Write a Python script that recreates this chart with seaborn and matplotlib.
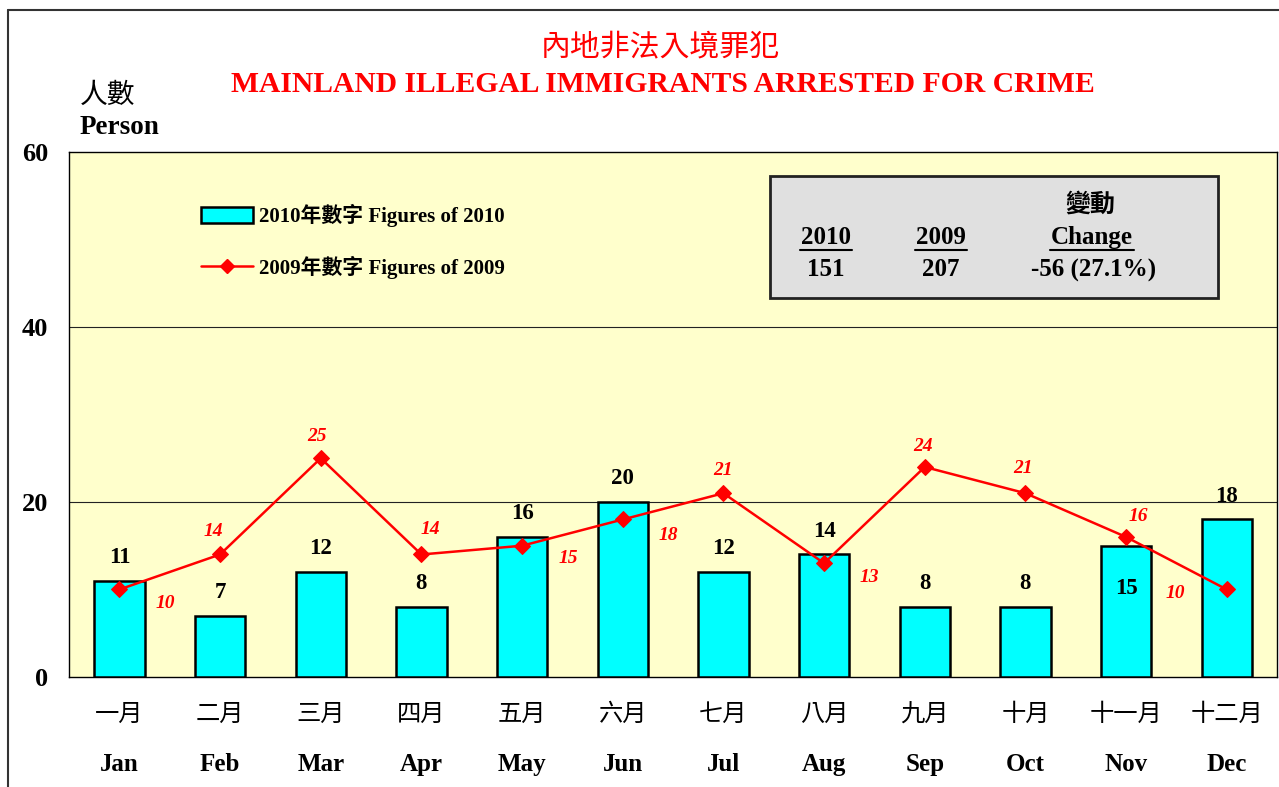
import numpy as np
import pandas as pd
import matplotlib.pyplot as plt
import seaborn as sns
from matplotlib.lines import Line2D
from matplotlib.patches import Patch, Rectangle
from matplotlib import transforms

months_zh = ["一月", "二月", "三月", "四月", "五月", "六月",
             "七月", "八月", "九月", "十月", "十一月", "十二月"]
months_en = ["Jan", "Feb", "Mar", "Apr", "May", "Jun",
             "Jul", "Aug", "Sep", "Oct", "Nov", "Dec"]
figures_2010 = [11, 7, 12, 8, 16, 20, 12, 14, 8, 8, 15, 18]
figures_2009 = [10, 14, 25, 14, 15, 18, 21, 13, 24, 21, 16, 10]
total_2010 = "151"
total_2009 = "207"
change_text = "-56 (27.1%)"
y_ticks = [0, 20, 40, 60]

sns.set_style("white")
serif = ["Liberation Serif", "Noto Sans CJK TC"]
cjk = ["Noto Sans CJK TC", "DejaVu Sans"]
plt.rcParams["font.family"] = serif
plt.rcParams["font.weight"] = "bold"
plt.rcParams["text.color"] = "black"
plt.rcParams["xtick.color"] = "black"
plt.rcParams["ytick.color"] = "black"

df = pd.DataFrame({"month": months_en, "y2010": figures_2010, "y2009": figures_2009})

fig = plt.figure(figsize=(12.79, 7.87), dpi=100)
ax = fig.add_axes([0.054, 0.1398, 0.9445, 0.6671])
ax.set_facecolor("#FFFFCC")

sns.barplot(data=df, x="month", y="y2010", color="#00FFFF", saturation=1,
            edgecolor="black", linewidth=1.8, width=0.5, ax=ax, zorder=3)
sns.lineplot(x=np.arange(len(months_en)), y=df["y2009"], color="red", marker="D",
             markersize=8, markeredgecolor="red", linewidth=1.8, ax=ax, zorder=4)

ax.set_ylim(0, 60)
ax.set_xlim(-0.5, 11.5)
ax.set_yticks(y_ticks)
ax.set_yticklabels([str(v) for v in y_ticks], fontsize=19, fontweight="bold")
ax.set_xticks(range(len(months_en)))
ax.set_xticklabels(months_en, fontsize=18, fontweight="bold")
ax.tick_params(axis="both", length=0)
ax.tick_params(axis="x", pad=55)
ax.tick_params(axis="y", pad=15)
ax.set_xlabel("")
ax.set_ylabel("")
for y in y_ticks[1:-1]:
    ax.axhline(y, color="#222222", linewidth=0.8, zorder=1)
for s in ax.spines.values():
    s.set_color("black")
    s.set_linewidth(1.0)

# Chinese month labels
trans = transforms.blended_transform_factory(ax.transData, ax.transAxes)
for i, m in enumerate(months_zh):
    ax.text(i, -0.071, m, transform=trans, ha="center", va="center",
            fontsize=17.5, fontweight="normal", family=cjk)

# bar value labels (Nov sits inside its bar)
bar_offsets = {10: -43}
for i, v in enumerate(figures_2010):
    ax.annotate(str(v), (i, v), xytext=(0, bar_offsets.get(i, 23)),
                textcoords="offset pixels", ha="center", va="center",
                fontsize=16.5, fontweight="bold", color="black", zorder=5)

# 2009 value labels
line_offsets = [(46, -14), (-7, 23), (-4, 22), (9, 25), (46, -13), (46, -16),
                (0, 23), (45, -14), (-2, 20), (-2, 25), (12, 20), (-51, -4)]
for i, v in enumerate(figures_2009):
    ax.annotate(str(v), (i, v), xytext=line_offsets[i], textcoords="offset pixels",
                ha="center", va="center", fontsize=14, fontweight="bold",
                fontstyle="italic", color="red", zorder=5)

# legend
handles = [Patch(facecolor="#00FFFF", edgecolor="black", linewidth=1.8),
           Line2D([0], [0], color="red", marker="D", markersize=7, linewidth=1.8)]
labels = ["2010年數字 Figures of 2010", "2009年數字 Figures of 2009"]
ax.legend(handles, labels, loc="upper left", bbox_to_anchor=(0.094, 0.936),
          frameon=False, handlelength=2.5, handleheight=0.8,
          handletextpad=0.25, labelspacing=1.35,
          prop={"family": serif, "weight": "bold", "size": 15})

# summary box
ax.add_patch(Rectangle((0.580, 0.722), 0.371, 0.232, transform=ax.transAxes,
                       facecolor="#E0E0E0", edgecolor="#222222", linewidth=2, zorder=6))
box_font = dict(transform=ax.transAxes, ha="center", va="center", fontsize=18,
                fontweight="bold", color="black", zorder=7)
ax.text((1090 - 69) / 1208, (677 - 205) / 525, "變動", family=cjk, **box_font)
heads = [("2010", 826, 52), ("2009", 941, 52), ("Change", 1092, 84)]
for txt, xc, w in heads:
    ax.text((xc - 69) / 1208, (677 - 238) / 525, txt, **box_font)
    ax.add_line(Line2D([(xc - 69 - w / 2) / 1208, (xc - 69 + w / 2) / 1208],
                       [(677 - 250) / 525] * 2, transform=ax.transAxes,
                       color="black", linewidth=1.5, zorder=7))
for txt, xc in [(total_2010, 826), (total_2009, 941), (change_text, 1093)]:
    ax.text((xc - 69) / 1208, (677 - 270) / 525, txt, **box_font)

# titles and axis caption
fig.text(0.516, 1 - 47 / 787, "內地非法入境罪犯", ha="center", va="center",
         fontsize=21.5, color="red", fontweight="normal", family=cjk)
fig.text(0.518, 1 - 85 / 787, "MAINLAND ILLEGAL IMMIGRANTS ARRESTED FOR CRIME",
         ha="center", va="center", fontsize=21.3, color="red", fontweight="bold")
fig.text(80 / 1279, 1 - 95 / 787, "人數", ha="left", va="center", fontsize=20,
         fontweight="normal", family=cjk)
fig.text(80 / 1279, 1 - 128 / 787, "Person", ha="left", va="center", fontsize=19.5,
         fontweight="bold")

# outer frame (left and top edges)
fig.add_artist(Line2D([8 / 1279, 8 / 1279], [0, 1 - 10 / 787], transform=fig.transFigure,
                      color="#333333", linewidth=1.5))
fig.add_artist(Line2D([8 / 1279, 1], [1 - 10 / 787, 1 - 10 / 787], transform=fig.transFigure,
                      color="#333333", linewidth=1.5))

fig.savefig("out.png", dpi=100)
